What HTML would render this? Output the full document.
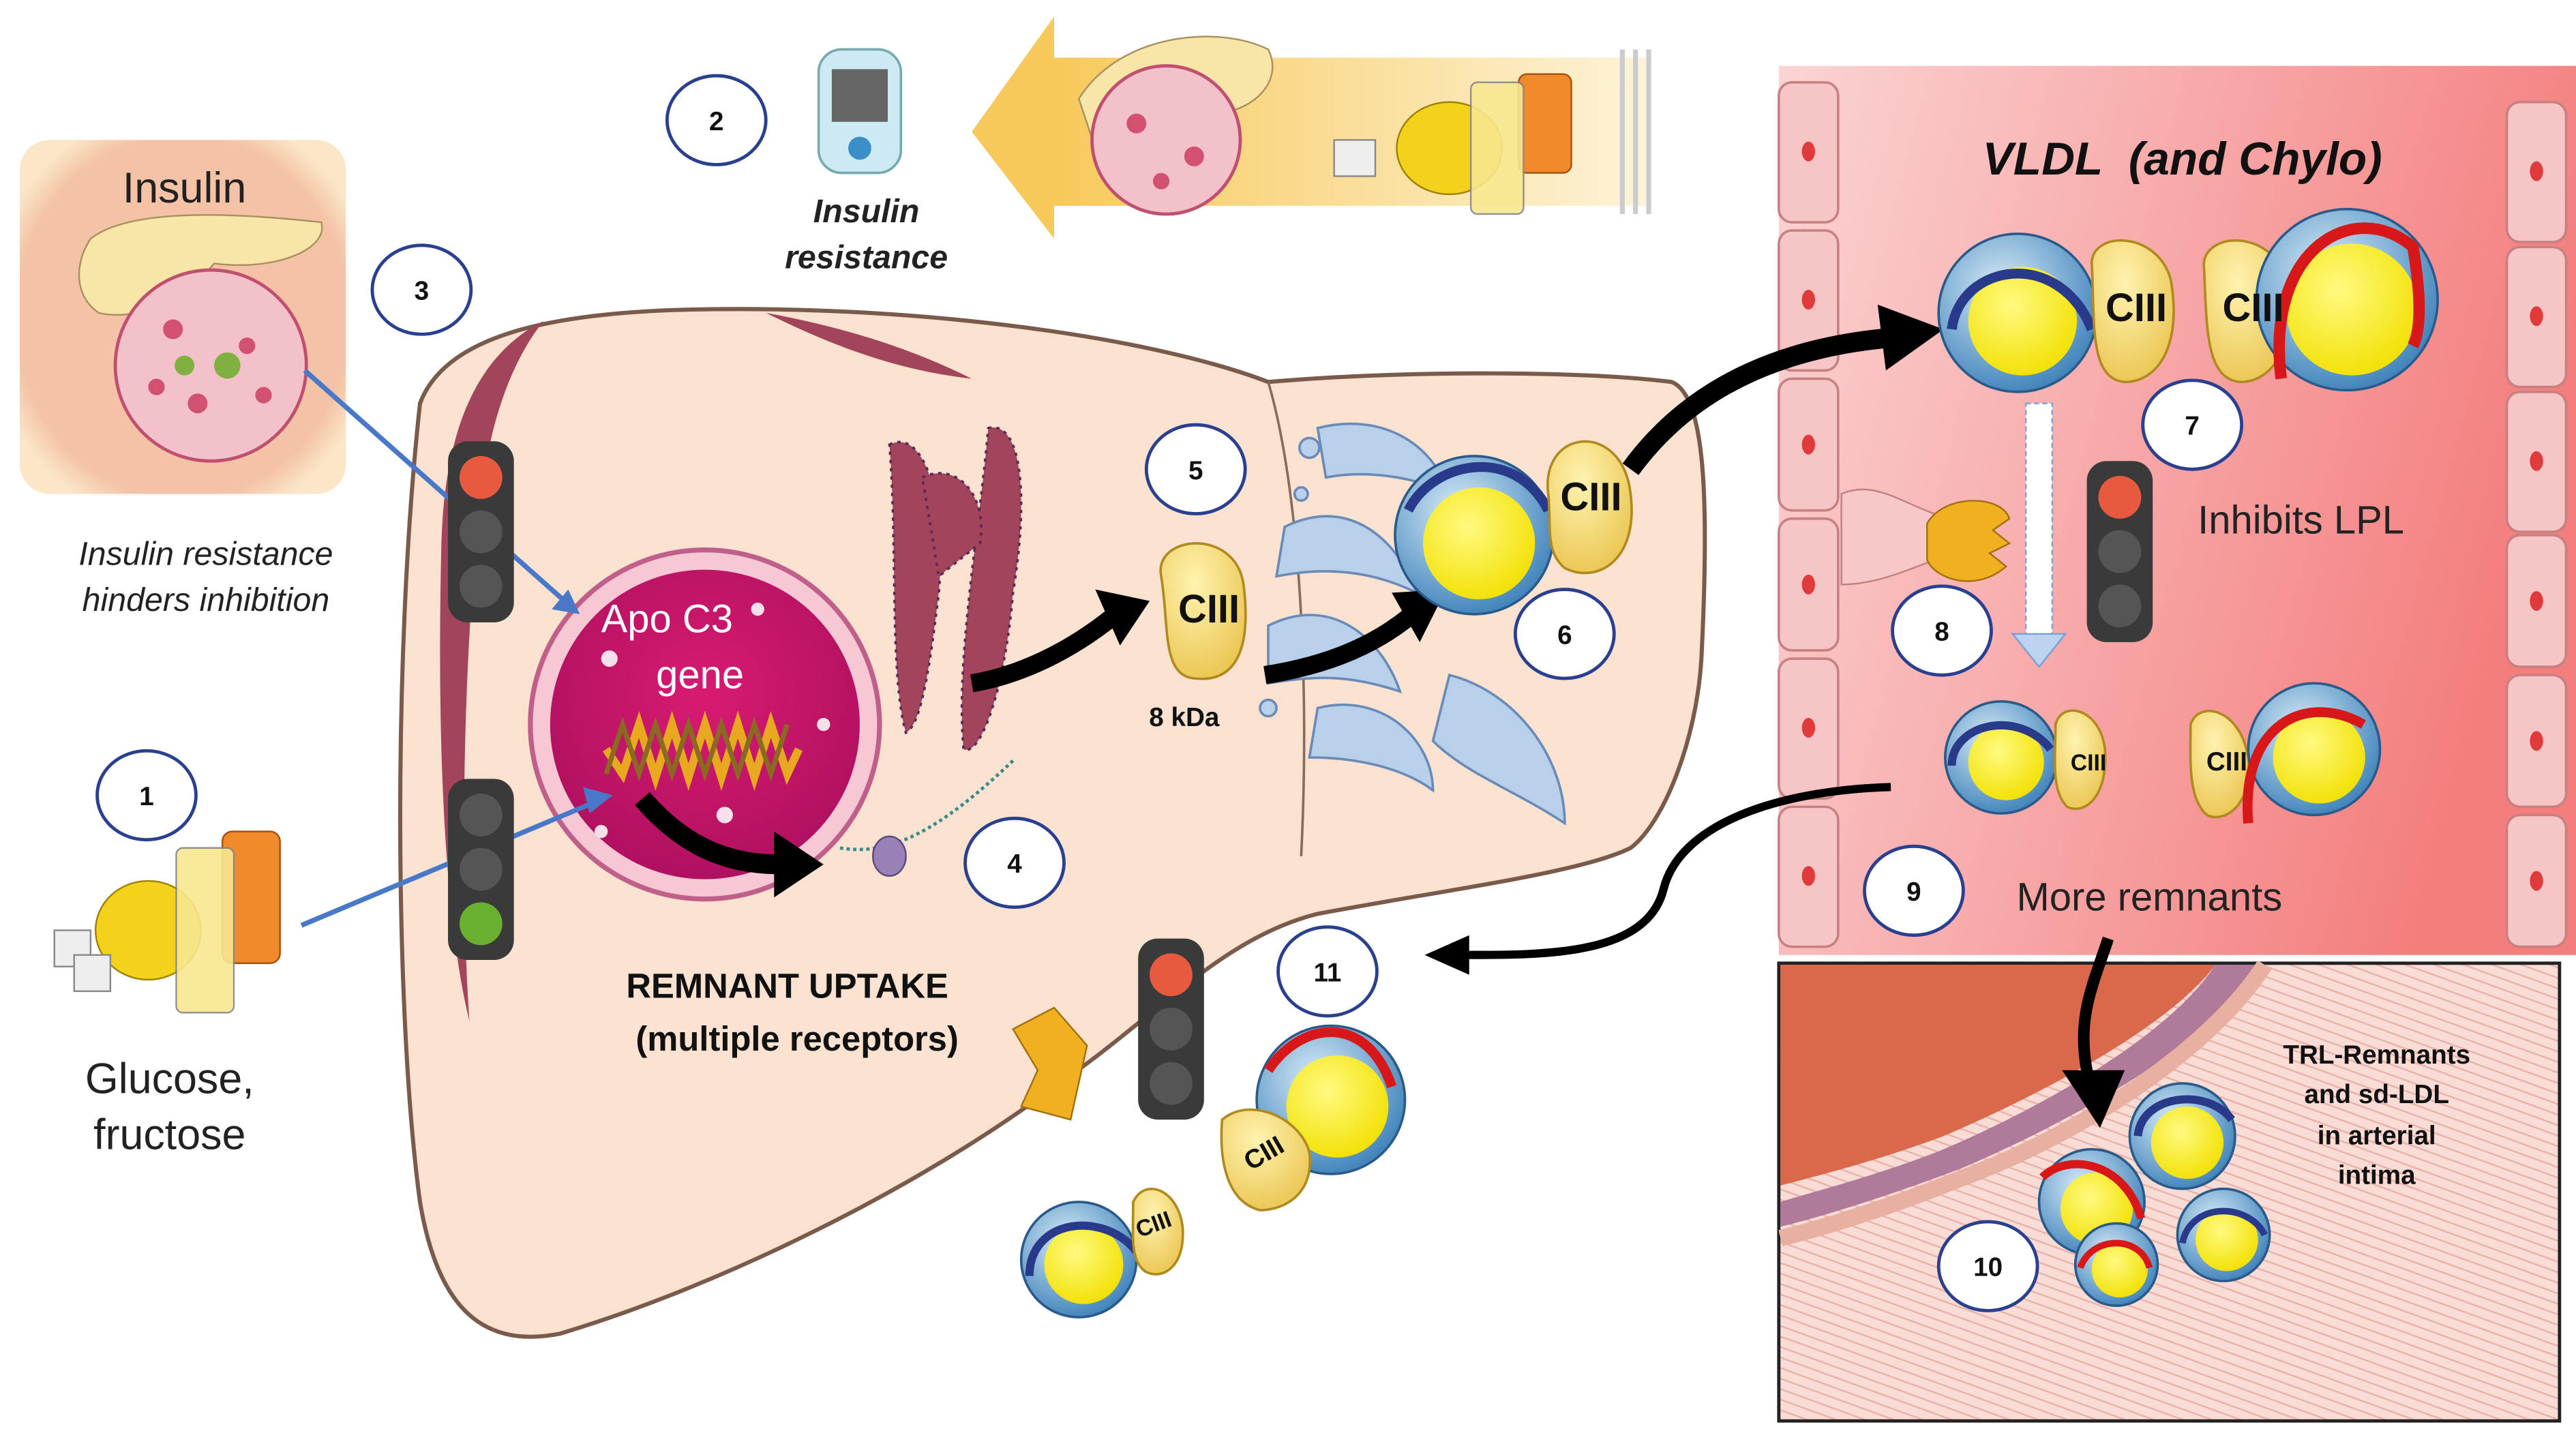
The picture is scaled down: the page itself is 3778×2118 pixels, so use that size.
<!DOCTYPE html>
<html><head><meta charset="utf-8">
<style>
html,body{margin:0;padding:0;background:#fff;}
svg{display:block;}
text{font-family:"Liberation Sans",sans-serif;}
</style></head>
<body>
<svg width="3778" height="2118" viewBox="0 0 1564 877" preserveAspectRatio="none" xmlns="http://www.w3.org/2000/svg">
<defs>
<linearGradient id="redpanel" x1="0" y1="0" x2="1" y2="0.3">
<stop offset="0" stop-color="#fbd4d4"/><stop offset="1" stop-color="#f47e7e"/></linearGradient>
<radialGradient id="ins" cx="0.5" cy="0.5" r="0.6"><stop offset="0" stop-color="#f6c2a6"/><stop offset="0.85" stop-color="#f4c2a4"/><stop offset="1" stop-color="#fbe6c8"/></radialGradient>
<linearGradient id="arrowg" x1="0" y1="0" x2="1" y2="0"><stop offset="0" stop-color="#f7c95a"/><stop offset="1" stop-color="#fdf3d8"/></linearGradient>
<radialGradient id="sph" cx="0.4" cy="0.35" r="0.7"><stop offset="0" stop-color="#d8ecf8"/><stop offset="1" stop-color="#3a7fb8"/></radialGradient>
<radialGradient id="core" cx="0.4" cy="0.35" r="0.7"><stop offset="0" stop-color="#fffa80"/><stop offset="1" stop-color="#f2e000"/></radialGradient>
<radialGradient id="c3" cx="0.4" cy="0.3" r="0.8"><stop offset="0" stop-color="#fff3b0"/><stop offset="1" stop-color="#e9c24a"/></radialGradient>
<radialGradient id="nuc" cx="0.5" cy="0.4" r="0.6"><stop offset="0" stop-color="#d81b72"/><stop offset="1" stop-color="#b01060"/></radialGradient>
<pattern id="stripe" width="14" height="6" patternUnits="userSpaceOnUse" patternTransform="rotate(20)"><rect width="14" height="6" fill="#f9dcd6"/><path d="M0 3h14" stroke="#eab3aa" stroke-width="1"/></pattern>
<g id="tl"><rect x="-20" y="-55" width="40" height="110" rx="12" fill="#3a3a3a"/><circle cx="0" cy="-33" r="13" fill="#555"/><circle cx="0" cy="0" r="13" fill="#555"/><circle cx="0" cy="33" r="13" fill="#555"/></g>
</defs>
<rect width="1564" height="877" fill="#fff"/>

<rect x="1080" y="40" width="484" height="540" fill="url(#redpanel)"/>
<g fill="#f6c6c6" stroke="#c98080" stroke-width="1.5">
<rect x="1080" y="50" width="36" height="85" rx="8"/><rect x="1080" y="140" width="36" height="85" rx="8"/><rect x="1080" y="230" width="36" height="80" rx="8"/><rect x="1080" y="315" width="36" height="80" rx="8"/><rect x="1080" y="400" width="36" height="85" rx="8"/><rect x="1080" y="490" width="36" height="85" rx="8"/>
<rect x="1522" y="62" width="36" height="85" rx="8"/><rect x="1522" y="150" width="36" height="85" rx="8"/><rect x="1522" y="238" width="36" height="85" rx="8"/><rect x="1522" y="325" width="36" height="80" rx="8"/><rect x="1522" y="410" width="36" height="80" rx="8"/><rect x="1522" y="495" width="36" height="80" rx="8"/>
</g>
<g fill="#e03a3a"><ellipse cx="1098" cy="92" rx="4" ry="6"/><ellipse cx="1098" cy="182" rx="4" ry="6"/><ellipse cx="1098" cy="270" rx="4" ry="6"/><ellipse cx="1098" cy="355" rx="4" ry="6"/><ellipse cx="1098" cy="442" rx="4" ry="6"/><ellipse cx="1098" cy="532" rx="4" ry="6"/>
<ellipse cx="1540" cy="104" rx="4" ry="6"/><ellipse cx="1540" cy="192" rx="4" ry="6"/><ellipse cx="1540" cy="280" rx="4" ry="6"/><ellipse cx="1540" cy="365" rx="4" ry="6"/><ellipse cx="1540" cy="450" rx="4" ry="6"/><ellipse cx="1540" cy="535" rx="4" ry="6"/></g>

<rect x="1080" y="585" width="474" height="278" fill="url(#stripe)" stroke="#222" stroke-width="2"/>
<path d="M1081 586 H1345 C1320 620 1250 660 1180 690 C1140 705 1100 715 1081 720 Z" fill="#d9694a"/>
<path d="M1345 586 C1320 625 1250 668 1180 698 C1140 714 1100 724 1081 730 L1081 745 C1110 738 1150 725 1190 710 C1260 680 1340 635 1375 586 Z" fill="#b07a9a"/>
<path d="M1375 586 C1340 640 1260 690 1190 716 C1150 732 1110 745 1081 752" stroke="#e8b0a0" stroke-width="10" fill="none"/>

<rect x="640" y="35" width="360" height="90" fill="url(#arrowg)"/>
<polygon points="640,10 590,80 640,145" fill="#f7c95a"/>
<path d="M985 30 V130 M993 30 V130 M1001 30 V130" stroke="#ccc" stroke-width="3"/>

<rect x="12" y="85" width="198" height="215" rx="18" fill="url(#ins)"/>
<text x="112" y="123" font-size="26" text-anchor="middle" fill="#222">Insulin</text>
<path d="M55 145 C80 125 150 130 195 135 C200 150 170 165 130 160 C110 185 80 195 60 190 C45 180 45 160 55 145Z" fill="#f8e6a8" stroke="#a89060"/>
<circle cx="128" cy="222" r="58" fill="#f3c1c9" stroke="#c05070" stroke-width="2"/>
<g fill="#d25070"><circle cx="105" cy="200" r="6"/><circle cx="150" cy="210" r="5"/><circle cx="120" cy="245" r="6"/><circle cx="160" cy="240" r="5"/><circle cx="95" cy="235" r="5"/></g>
<g fill="#80b040"><circle cx="138" cy="222" r="8"/><circle cx="112" cy="222" r="6"/></g>
<text x="125" y="343" font-size="20" font-style="italic" text-anchor="middle" fill="#222">Insulin resistance</text>
<text x="125" y="371" font-size="20" font-style="italic" text-anchor="middle" fill="#222">hinders inhibition</text>

<rect x="497" y="30" width="50" height="75" rx="14" fill="#cde9f4" stroke="#7aa" stroke-width="1.5"/>
<rect x="505" y="42" width="34" height="32" fill="#666"/>
<circle cx="522" cy="90" r="7" fill="#3a8fc8"/>
<text x="526" y="135" font-size="20" font-style="italic" font-weight="bold" text-anchor="middle" fill="#222">Insulin</text>
<text x="526" y="163" font-size="20" font-style="italic" font-weight="bold" text-anchor="middle" fill="#222">resistance</text>
<path d="M655 60 C680 20 740 15 770 30 C780 50 760 70 730 70 C720 90 690 95 665 90 Z" fill="#f8e6a8" stroke="#a89060"/>
<circle cx="708" cy="85" r="45" fill="#f3c1c9" stroke="#c05070" stroke-width="2"/>
<g fill="#d25070"><circle cx="690" cy="75" r="6"/><circle cx="725" cy="95" r="6"/><circle cx="705" cy="110" r="5"/></g>
<ellipse cx="880" cy="90" rx="32" ry="28" fill="#f2d21a" stroke="#a08000"/>
<rect x="810" y="85" width="25" height="22" fill="#eee" stroke="#888"/>
<rect x="922" y="45" width="32" height="60" rx="5" fill="#f08a2a" stroke="#a05010"/>
<rect x="893" y="50" width="32" height="80" rx="4" fill="#f8e890" stroke="#888" opacity="0.9"/>

<path d="M255 245 C270 205 330 190 420 188 C560 185 700 205 770 232 C850 225 960 225 1015 232 C1035 240 1038 300 1033 400 C1030 450 1010 500 990 515 C960 530 880 540 800 555 C740 570 700 620 640 660 C560 720 440 780 340 810 C290 820 265 790 255 730 C240 620 238 400 255 245Z" fill="#f9e2d0" stroke="#7a5a4a" stroke-width="2.5"/>
<path d="M330 195 C290 215 270 260 268 330 C265 450 270 560 285 620 C280 550 280 420 290 320 C295 260 310 220 330 195Z" fill="#a2445a"/>
<path d="M465 190 C520 200 560 215 590 230 C545 225 505 210 465 190Z" fill="#a2445a"/>
<path d="M770 232 C790 300 795 420 790 520" stroke="#8a6a5a" stroke-width="1.5" fill="none"/>

<g fill="#b8d0ea" stroke="#6a8ab8" stroke-width="1.5">
<path d="M800 260 C840 250 870 270 880 300 C860 290 830 285 805 290 Z"/>
<path d="M780 320 C820 300 850 330 860 360 C830 345 800 345 775 350 Z"/>
<path d="M770 380 C810 360 840 390 850 420 C820 410 800 410 770 415Z"/>
<path d="M800 430 C840 420 870 450 870 480 C850 465 820 460 795 460Z"/>
<path d="M880 410 C920 420 950 460 950 500 C920 480 890 470 870 450Z"/>
<circle cx="795" cy="272" r="6"/><circle cx="770" cy="430" r="5"/><circle cx="790" cy="300" r="4"/>
</g>
<g fill="#a2445a" stroke="#5a2a5a" stroke-width="1.5" stroke-dasharray="2 3">
<path d="M540 270 C560 260 575 300 570 360 C565 400 560 440 550 445 C540 410 545 330 540 270Z"/>
<path d="M600 260 C620 255 625 300 615 360 C610 420 595 460 585 455 C580 400 595 320 600 260Z"/>
<path d="M560 290 C580 280 600 300 595 330 L570 350Z"/>
</g>

<circle cx="428" cy="440" r="106" fill="#f6c8d4" stroke="#c0608a" stroke-width="3"/>
<circle cx="428" cy="440" r="94" fill="url(#nuc)"/>
<g fill="#f5e0ea"><circle cx="370" cy="400" r="5"/><circle cx="460" cy="370" r="4"/><circle cx="440" cy="495" r="5"/><circle cx="500" cy="440" r="4"/><circle cx="365" cy="505" r="4"/></g>
<text x="405" y="384" font-size="24" fill="#fff" text-anchor="middle">Apo C3</text>
<text x="425" y="418" font-size="24" fill="#fff" text-anchor="middle">gene</text>
<path d="M368 455 L378 470 L388 440 L398 472 L408 440 L418 472 L428 440 L438 472 L448 440 L458 472 L468 440 L478 470 L485 455" stroke="#e8a820" stroke-width="5" fill="none"/>
<path d="M368 470 L378 440 L388 470 L398 440 L408 470 L418 440 L428 470 L438 440 L448 470 L458 440 L468 470 L478 440" stroke="#8a6a20" stroke-width="3" fill="none"/>

<path d="M510 515 C540 520 570 505 615 462" stroke="#3a8a8a" stroke-width="2" fill="none" stroke-dasharray="2 2"/>
<ellipse cx="540" cy="520" rx="10" ry="12" fill="#9a80b8" stroke="#5a4a7a"/>

<path d="M390 485 C420 520 450 525 475 525" stroke="#000" stroke-width="12" fill="none"/>
<polygon points="470,505 500,525 470,545" fill="#000"/>
<path d="M590 415 C620 410 650 395 675 375" stroke="#000" stroke-width="11" fill="none"/>
<polygon points="665,358 698,365 680,392" fill="#000"/>
<path d="M768 410 C800 405 830 395 855 375" stroke="#000" stroke-width="11" fill="none"/>
<polygon points="845,360 878,358 862,390" fill="#000"/>
<path d="M990 285 C1030 230 1090 210 1150 205" stroke="#000" stroke-width="12" fill="none"/>
<polygon points="1140,185 1180,200 1145,225" fill="#000"/>
<path d="M1148 478 C1080 480 1020 500 1010 540 C1000 580 940 580 890 580" stroke="#000" stroke-width="5" fill="none"/>
<polygon points="892,568 865,580 892,592" fill="#000"/>
<path d="M1280 570 C1270 600 1260 620 1268 655" stroke="#000" stroke-width="7" fill="none"/>
<polygon points="1252,650 1275,685 1290,650" fill="#000"/>

<path d="M185 225 L345 367" stroke="#4a78c8" stroke-width="3"/><polygon points="352,373 335,370 345,358" fill="#4a78c8"/>
<path d="M183 562 L364 486" stroke="#4a78c8" stroke-width="3"/><polygon points="372,483 358,494 354,478" fill="#4a78c8"/>

<rect x="1230" y="245" width="16" height="140" fill="#fff" stroke="#7aa0d8" stroke-dasharray="3 2"/>
<polygon points="1222,385 1254,385 1238,405" fill="#bcd4f0" stroke="#7aa0d8"/>

<path d="M1118 300 C1140 290 1160 310 1185 315 L1190 335 C1170 340 1145 355 1118 355Z" fill="#f8c8c8" stroke="#c08080"/>
<path d="M1170 318 C1180 300 1215 300 1220 315 L1210 322 L1220 330 L1208 336 L1218 344 C1200 360 1175 352 1170 340Z" fill="#f0b020" stroke="#a07010"/>

<g transform="translate(292,323)"><use href="#tl"/><circle cx="0" cy="-33" r="13" fill="#e85a40"/></g>
<g transform="translate(292,528)"><use href="#tl"/><circle cx="0" cy="33" r="13" fill="#6ab030"/></g>
<g transform="translate(711,625)"><use href="#tl"/><circle cx="0" cy="-33" r="13" fill="#e85a40"/></g>
<g transform="translate(1287,335)"><use href="#tl"/><circle cx="0" cy="-33" r="13" fill="#e85a40"/></g>

<path d="M615 625 L640 612 L660 635 L650 680 L620 672 L630 650Z" fill="#f0b020" stroke="#a07010"/>

<ellipse cx="90" cy="565" rx="32" ry="30" fill="#f2d21a" stroke="#a08000"/>
<rect x="33" y="565" width="22" height="22" fill="#eee" stroke="#888"/><rect x="45" y="580" width="22" height="22" fill="#eee" stroke="#888"/>
<rect x="135" y="505" width="35" height="80" rx="6" fill="#f08a2a" stroke="#a05010"/>
<rect x="107" y="515" width="35" height="100" rx="4" fill="#f8e890" stroke="#888" opacity="0.9"/>
<text x="103" y="664" font-size="26" text-anchor="middle" fill="#222">Glucose,</text>
<text x="103" y="698" font-size="26" text-anchor="middle" fill="#222">fructose</text>

<g stroke-width="1.5">
<circle cx="895" cy="325" r="48" fill="url(#sph)" stroke="#2a5a8a"/><circle cx="898" cy="330" r="34" fill="url(#core)"/>
<path d="M855 310 C870 280 920 270 940 310" stroke="#2a3a8a" stroke-width="6" fill="none"/>
<path d="M940 300 C935 260 985 255 990 300 C995 340 970 355 950 345 C938 335 942 320 940 300Z" fill="url(#c3)" stroke="#b08a20"/>
<path d="M705 350 C700 325 750 320 755 355 C760 395 750 415 725 412 C705 410 710 380 705 350Z" fill="url(#c3)" stroke="#b08a20"/>
<circle cx="1225" cy="190" r="48" fill="url(#sph)" stroke="#2a5a8a"/><circle cx="1228" cy="195" r="33" fill="url(#core)"/>
<path d="M1185 200 C1190 160 1250 150 1270 200" stroke="#2a3a8a" stroke-width="6" fill="none"/>
<path d="M1270 160 C1270 140 1310 140 1318 170 C1325 210 1310 232 1290 232 C1268 230 1272 195 1270 160Z" fill="url(#c3)" stroke="#b08a20"/>
<path d="M1338 160 C1340 140 1380 140 1388 170 C1395 210 1380 232 1360 232 C1338 230 1340 195 1338 160Z" fill="url(#c3)" stroke="#b08a20"/>
<circle cx="1425" cy="182" r="55" fill="url(#sph)" stroke="#2a5a8a"/><circle cx="1428" cy="188" r="40" fill="url(#core)"/>
<path d="M1385 230 C1375 150 1430 120 1465 150 C1470 180 1470 200 1465 210" stroke="#d81818" stroke-width="7" fill="none"/>
<circle cx="1215" cy="460" r="34" fill="url(#sph)" stroke="#2a5a8a"/><circle cx="1218" cy="463" r="23" fill="url(#core)"/>
<path d="M1185 465 C1185 440 1225 430 1245 455" stroke="#2a3a8a" stroke-width="5" fill="none"/>
<path d="M1248 440 C1252 425 1275 430 1278 455 C1280 485 1265 495 1255 490 C1245 480 1248 460 1248 440Z" fill="url(#c3)" stroke="#b08a20"/>
<path d="M1330 440 C1335 425 1360 430 1365 460 C1368 490 1350 500 1340 495 C1328 485 1330 460 1330 440Z" fill="url(#c3)" stroke="#b08a20"/>
<circle cx="1405" cy="455" r="40" fill="url(#sph)" stroke="#2a5a8a"/><circle cx="1408" cy="460" r="28" fill="url(#core)"/>
<path d="M1365 500 C1360 440 1400 420 1435 440" stroke="#d81818" stroke-width="6" fill="none"/>
<circle cx="808" cy="668" r="45" fill="url(#sph)" stroke="#2a5a8a"/><circle cx="812" cy="672" r="31" fill="url(#core)"/>
<path d="M770 650 C790 620 830 615 845 660" stroke="#d81818" stroke-width="6" fill="none"/>
<path d="M742 680 C760 665 790 680 795 700 C798 725 780 735 765 735 C745 730 740 705 742 680Z" fill="url(#c3)" stroke="#b08a20"/>
<circle cx="655" cy="765" r="35" fill="url(#sph)" stroke="#2a5a8a"/><circle cx="658" cy="768" r="24" fill="url(#core)"/>
<path d="M625 775 C625 740 670 735 690 760" stroke="#2a3a8a" stroke-width="5" fill="none"/>
<path d="M688 730 C695 715 715 722 718 745 C720 770 705 778 695 772 C686 765 688 750 688 730Z" fill="url(#c3)" stroke="#b08a20"/>
<circle cx="1325" cy="690" r="32" fill="url(#sph)" stroke="#2a5a8a"/><circle cx="1328" cy="694" r="22" fill="url(#core)"/>
<path d="M1298 690 C1300 665 1340 660 1355 680" stroke="#2a3a8a" stroke-width="5" fill="none"/>
<circle cx="1270" cy="730" r="32" fill="url(#sph)" stroke="#2a5a8a"/><circle cx="1273" cy="734" r="22" fill="url(#core)"/>
<path d="M1240 715 C1255 700 1290 705 1300 740" stroke="#d81818" stroke-width="5" fill="none"/>
<circle cx="1285" cy="768" r="25" fill="url(#sph)" stroke="#2a5a8a"/><circle cx="1287" cy="771" r="17" fill="url(#core)"/>
<path d="M1263 770 C1270 750 1300 750 1305 770" stroke="#d81818" stroke-width="4" fill="none"/>
<circle cx="1350" cy="750" r="28" fill="url(#sph)" stroke="#2a5a8a"/><circle cx="1352" cy="753" r="19" fill="url(#core)"/>
<path d="M1325 755 C1330 730 1365 730 1375 750" stroke="#2a3a8a" stroke-width="4" fill="none"/>
</g>

<g font-weight="bold" fill="#111" text-anchor="middle">
<text x="734" y="378" font-size="24">CIII</text>
<text x="966" y="310" font-size="24">CIII</text>
<text x="1297" y="195" font-size="24">CIII</text>
<text x="1368" y="195" font-size="24">CIII</text>
<text x="1268" y="468" font-size="14">CIII</text>
<text x="1352" y="468" font-size="16">CIII</text>
<text x="770" y="705" font-size="16" transform="rotate(-30 770 705)">CIII</text>
<text x="702" y="748" font-size="14" transform="rotate(-20 702 748)">CIII</text>
<text x="719" y="441" font-size="16">8 kDa</text>
</g>

<text x="1325" y="106" font-size="28" font-weight="bold" font-style="italic" text-anchor="middle" fill="#111">VLDL&#160; (and Chylo)</text>
<text x="1397" y="324" font-size="24" text-anchor="middle" fill="#222">Inhibits LPL</text>
<text x="1305" y="553" font-size="24" text-anchor="middle" fill="#222">More remnants</text>
<text x="478" y="606" font-size="21" font-weight="bold" text-anchor="middle" fill="#111">REMNANT UPTAKE</text>
<text x="484" y="638" font-size="21" font-weight="bold" text-anchor="middle" fill="#111">(multiple receptors)</text>
<g font-size="16" font-weight="bold" text-anchor="middle" fill="#111">
<text x="1443" y="646">TRL-Remnants</text><text x="1443" y="670">and sd-LDL</text><text x="1443" y="695">in arterial</text><text x="1443" y="719">intima</text></g>

<g fill="#fff" stroke="#2a3f8f" stroke-width="2">
<ellipse cx="89" cy="483" rx="30" ry="27"/><ellipse cx="435" cy="73" rx="30" ry="27"/><ellipse cx="256" cy="176" rx="30" ry="27"/>
<ellipse cx="616" cy="524" rx="30" ry="27"/><ellipse cx="726" cy="285" rx="30" ry="27"/><ellipse cx="950" cy="385" rx="30" ry="27"/>
<ellipse cx="1331" cy="258" rx="30" ry="27"/><ellipse cx="1179" cy="383" rx="30" ry="27"/><ellipse cx="1162" cy="541" rx="30" ry="27"/>
<ellipse cx="1207" cy="769" rx="30" ry="27"/><ellipse cx="806" cy="590" rx="30" ry="27"/></g>
<g font-size="16" font-weight="bold" text-anchor="middle" fill="#111">
<text x="89" y="489">1</text><text x="435" y="79">2</text><text x="256" y="182">3</text><text x="616" y="530">4</text>
<text x="726" y="291">5</text><text x="950" y="391">6</text><text x="1331" y="264">7</text><text x="1179" y="389">8</text>
<text x="1162" y="547">9</text><text x="1207" y="775">10</text><text x="806" y="596">11</text></g>
</svg>
</body></html>
